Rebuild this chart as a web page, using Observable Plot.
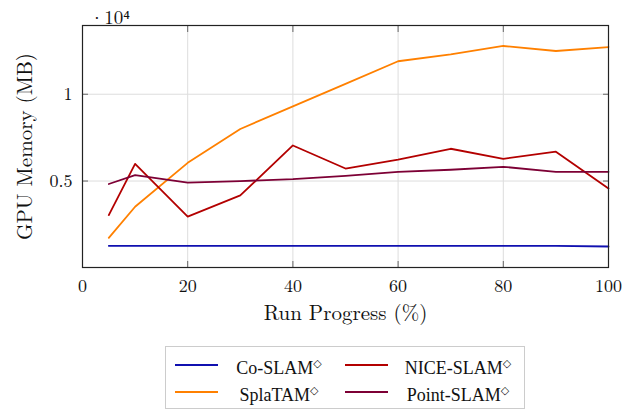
<!DOCTYPE html>
<html><head><meta charset="utf-8">
<script src="https://cdn.jsdelivr.net/npm/d3@7"></script>
<script src="https://cdn.jsdelivr.net/npm/@observablehq/plot@0.6"></script>
<style>
body{margin:0;background:#fff;width:624px;height:410px;position:relative;overflow:hidden;font-family:'Latin Modern Roman','Liberation Serif',serif;}
#chart svg, #chart svg text{font-family:'Latin Modern Roman','Liberation Serif',serif !important;}
#legend{position:absolute;left:165px;top:346px;width:360px;height:63px;border:1px solid #ccc;box-sizing:border-box;font-family:'Liberation Serif',serif;font-size:18px;color:#111;}
.lab{position:absolute;white-space:nowrap;}
sup{font-size:11px;vertical-align:7px;font-family:'DejaVu Sans',sans-serif;}
</style>
</head><body>
<div id="chart"></div>
<div id="legend"></div>
<script>
const progress = [5, 10, 20, 30, 40, 50, 60, 70, 80, 90, 100];
const seriesNames = ["Co-SLAM", "SplaTAM", "NICE-SLAM", "Point-SLAM"];
const coSlam    = [1270, 1270, 1270, 1270, 1270, 1270, 1270, 1270, 1270, 1265, 1230];
const splaTam   = [1730, 3520, 6050, 8000, 9300, 10600, 11900, 12300, 12780, 12490, 12720];
const niceSlam  = [3040, 5990, 2950, 4170, 7050, 5720, 6240, 6860, 6280, 6690, 4570];
const pointSlam = [4830, 5340, 4910, 5000, 5110, 5300, 5530, 5650, 5820, 5530, 5530];
const colors = ["#1010b0", "#ff8000", "#b30000", "#7d0035"];
const xTicks = [0, 20, 40, 60, 80, 100];
const yTicks = [5000, 10000];
const yTickLabels = ["0.5", "1"];

const all = [coSlam, splaTam, niceSlam, pointSlam];
const data = [];
all.forEach((vals, s) => vals.forEach((v, i) => data.push({series: seriesNames[s], x: progress[i], y: v})));

const serif = "'Latin Modern Roman', 'Liberation Serif', serif";
const blank = () => "";
const chart = Plot.plot({
  width: 624, height: 340,
  marginLeft: 82, marginRight: 16, marginTop: 25, marginBottom: 73,
  style: {fontFamily: serif, fontSize: "16px", color: "#111", background: "#fff"},
  x: {domain: [0, 100], ticks: xTicks, label: null},
  y: {domain: [20, 13960], ticks: yTicks, label: null},
  color: {domain: seriesNames, range: colors},
  marks: [
    Plot.gridX(xTicks.slice(1, -1), {stroke: "#ddd", strokeOpacity: 1, strokeWidth: 1}),
    Plot.gridY(yTicks, {stroke: "#ddd", strokeOpacity: 1, strokeWidth: 1}),
    Plot.line(data, {x: "x", y: "y", z: "series", stroke: "series", strokeWidth: 1.8}),
    Plot.axisX(xTicks, {tickSize: 0, tickPadding: 12, fontSize: 18, fontFamily: serif, label: null}),
    Plot.axisX(xTicks.slice(1, -1), {tickSize: -6, tickFormat: blank, anchor: "bottom", stroke: "#666", label: null}),
    Plot.axisX(xTicks.slice(1, -1), {tickSize: -6, tickFormat: blank, anchor: "top", stroke: "#666", label: null}),
    Plot.axisY(yTicks, {tickSize: 0, tickPadding: 10, fontSize: 18, fontFamily: serif, tickFormat: (d, i) => yTickLabels[i], label: null}),
    Plot.axisY(yTicks, {tickSize: -6, tickFormat: blank, anchor: "left", stroke: "#666", label: null}),
    Plot.axisY(yTicks, {tickSize: -6, tickFormat: blank, anchor: "right", stroke: "#666", label: null}),
    Plot.frame({stroke: "#222", strokeWidth: 1.2}),
    Plot.text(["Run Progress (%)"], {frameAnchor: "bottom", dy: 52, fontSize: 21, fontFamily: serif, fill: "#111", textAnchor: "middle"}),
    Plot.text(["GPU Memory (MB)"], {frameAnchor: "left", dx: -57, rotate: -90, fontSize: 21, fontFamily: serif, fill: "#111", textAnchor: "middle"}),
    Plot.text(["·10⁴"], {frameAnchor: "top-left", dx: 7, dy: -15, fontSize: 19, fontFamily: serif, fill: "#111", textAnchor: "start"})
  ]
});
document.getElementById("chart").appendChild(chart);

const legend = document.getElementById("legend");
const pos = [[9, 18], [9, 45], [179, 18], [179, 45]];
const labelCenters = [113, 113, 292, 292];
seriesNames.forEach((name, i) => {
  const sw = document.createElement("div");
  sw.style.cssText = `position:absolute;left:${pos[i][0]}px;top:${pos[i][1] - 1}px;width:43px;height:2px;background:${colors[i]}`;
  legend.appendChild(sw);
  const lab = document.createElement("div");
  lab.className = "lab";
  lab.innerHTML = name + "<sup>◇</sup>";
  lab.style.cssText = `left:${labelCenters[i]}px;top:${pos[i][1] - 11}px;transform:translateX(-50%);line-height:20px;`;
  legend.appendChild(lab);
});
</script>
</body></html>
